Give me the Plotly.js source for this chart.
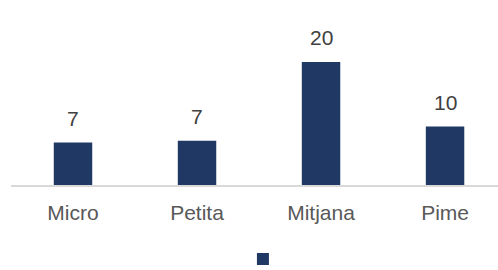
<!DOCTYPE html>
<html>
<head>
<meta charset="utf-8">
<script src="https://cdn.plot.ly/plotly-3.0.1.min.js"></script>
<style>html,body{margin:0;padding:0;background:#fff;}#chart{width:498px;height:270px;}</style>
</head>
<body>
<div id="chart"></div>
<script>
const categories = ["Micro", "Petita", "Mitjana", "Pime"];
const values = [6.9, 7.2, 20, 9.5];
const valueLabels = ["7", "7", "20", "10"];
const seriesName = " ";

const trace = {
  type: "bar",
  x: categories,
  y: values,
  name: seriesName,
  marker: { color: "#203864" },
  hoverinfo: "none",
  showlegend: true
};

const annotations = categories.map((c, i) => ({
  x: c,
  y: values[i],
  xref: "x",
  yref: "y",
  text: valueLabels[i],
  showarrow: false,
  yanchor: "bottom",
  yshift: 11,
  font: { family: "Liberation Sans, Arial, sans-serif", size: 21, color: "#404040" }
}));

const layout = {
  width: 498,
  height: 270,
  margin: { l: 11, r: 0, t: 10, b: 85 },
  paper_bgcolor: "#ffffff",
  plot_bgcolor: "#ffffff",
  bargap: 0.69,
  font: { family: "Liberation Sans, Arial, sans-serif", color: "#595959" },
  xaxis: {
    range: [-0.5, 3.427],
    showgrid: false,
    zeroline: false,
    showline: true,
    linecolor: "#d9d9d9",
    linewidth: 2,
    ticks: "",
    ticklabelstandoff: 8,
    tickfont: { size: 21, color: "#595959" },
    fixedrange: true
  },
  yaxis: {
    range: [0, 28.45],
    visible: false,
    showgrid: false,
    zeroline: false,
    fixedrange: true
  },
  annotations: annotations,
  showlegend: true,
  legend: {
    orientation: "h",
    xref: "container",
    yref: "container",
    x: 0.537,
    xanchor: "center",
    y: 0.039,
    yanchor: "middle",
    font: { size: 14 }
  }
};

Plotly.newPlot("chart", [trace], layout, { displayModeBar: false, staticPlot: true });
</script>
</body>
</html>
